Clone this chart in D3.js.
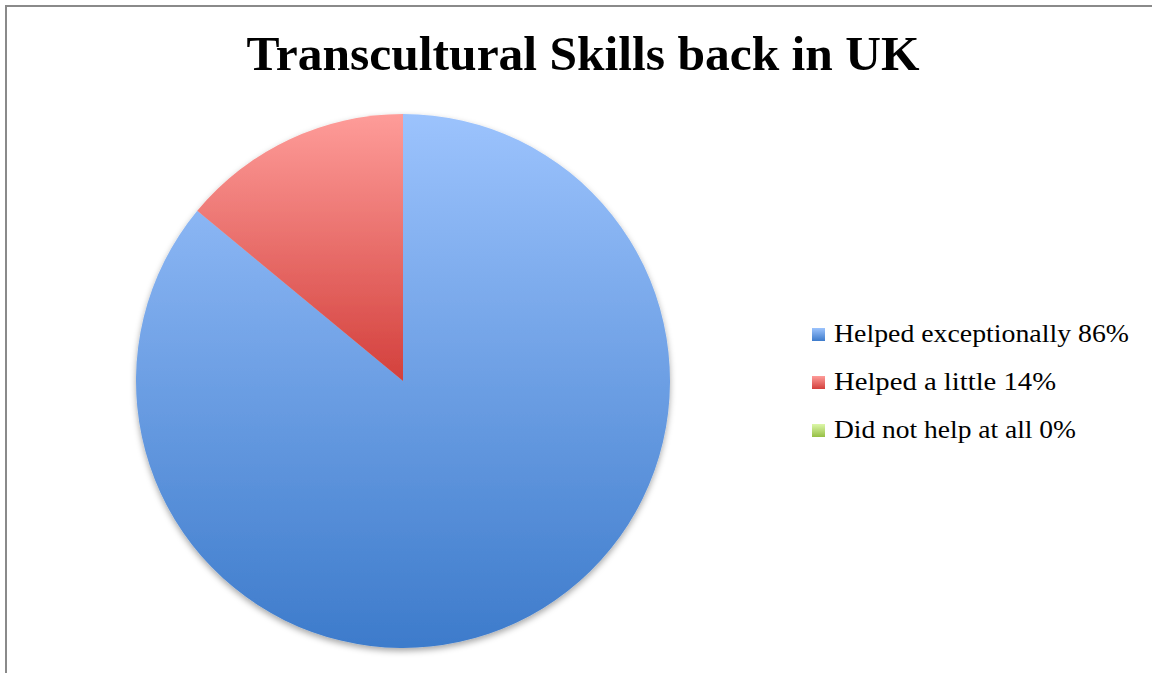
<!DOCTYPE html>
<html>
<head>
<meta charset="utf-8">
<script src="https://cdn.jsdelivr.net/npm/d3@7"></script>
<style>
  body { margin: 0; background: #fff; }
  svg { display: block; }
</style>
</head>
<body>
<div id="chart"></div>
<script>
const width = 1153, height = 673;

// data
const categories = ['Helped exceptionally', 'Helped a little', 'Did not help at all'];
const values = [86, 14, 0];
const gradTop = ['#9cc3fd', '#fe9c99', '#dcf7a8'];
const gradBottom = ['#3d7bcb', '#d3403c', '#96bf45'];

const center = { x: 403, y: 381 };
const radius = 267;

const svg = d3.select('#chart').append('svg')
    .attr('width', width)
    .attr('height', height);

const defs = svg.append('defs');

categories.forEach((c, i) => {
    const g = defs.append('linearGradient')
        .attr('id', 'grad' + i)
        .attr('x1', 0).attr('y1', 0).attr('x2', 0).attr('y2', 1);
    g.append('stop').attr('offset', '0%').attr('stop-color', gradTop[i]);
    g.append('stop').attr('offset', '100%').attr('stop-color', gradBottom[i]);
});

const shadow = defs.append('filter').attr('id', 'shadow')
    .attr('x', '-10%').attr('y', '-10%').attr('width', '120%').attr('height', '120%');
shadow.append('feDropShadow')
    .attr('dx', 0).attr('dy', 3).attr('stdDeviation', 3)
    .attr('flood-color', '#000').attr('flood-opacity', 0.35);

// frame
svg.append('path')
    .attr('d', `M6,${height} V6 H1152`)
    .attr('fill', 'none')
    .attr('stroke', '#8a8a8a')
    .attr('stroke-width', 2);

// title
svg.append('text')
    .attr('x', 583)
    .attr('y', 70)
    .attr('text-anchor', 'middle')
    .style('font-family', '"Liberation Serif", "DejaVu Serif", serif')
    .style('font-weight', 'bold')
    .style('font-size', '48px')
    .attr('fill', '#000')
    .attr('textLength', 673)
    .attr('lengthAdjust', 'spacingAndGlyphs')
    .text('Transcultural Skills back in UK');

// pie
const pie = d3.pie().sort(null).value(d => d)(values);
const arc = d3.arc().innerRadius(0).outerRadius(radius);

const pieG = svg.append('g')
    .attr('transform', `translate(${center.x},${center.y})`)
    .attr('filter', 'url(#shadow)');

pieG.selectAll('path')
    .data(pie.filter(d => d.data > 0))
    .enter()
    .append('path')
    .attr('d', arc)
    .attr('fill', d => `url(#grad${d.index})`);

// legend
const legend = svg.append('g').attr('transform', 'translate(812,342)');
const rowH = 48;
const textWidths = [295, 222, 242];

const items = legend.selectAll('g')
    .data(categories)
    .enter()
    .append('g')
    .attr('transform', (d, i) => `translate(0,${i * rowH})`);

items.append('rect')
    .attr('x', 0)
    .attr('y', -14)
    .attr('width', 13)
    .attr('height', 13)
    .attr('fill', (d, i) => `url(#grad${i})`);

items.append('text')
    .attr('x', 22)
    .attr('y', 0)
    .style('font-family', '"Liberation Serif", "DejaVu Serif", serif')
    .style('font-size', '26px')
    .attr('fill', '#000')
    .attr('textLength', (d, i) => textWidths[i])
    .attr('lengthAdjust', 'spacingAndGlyphs')
    .text((d, i) => `${d} ${values[i]}%`);
</script>
</body>
</html>
